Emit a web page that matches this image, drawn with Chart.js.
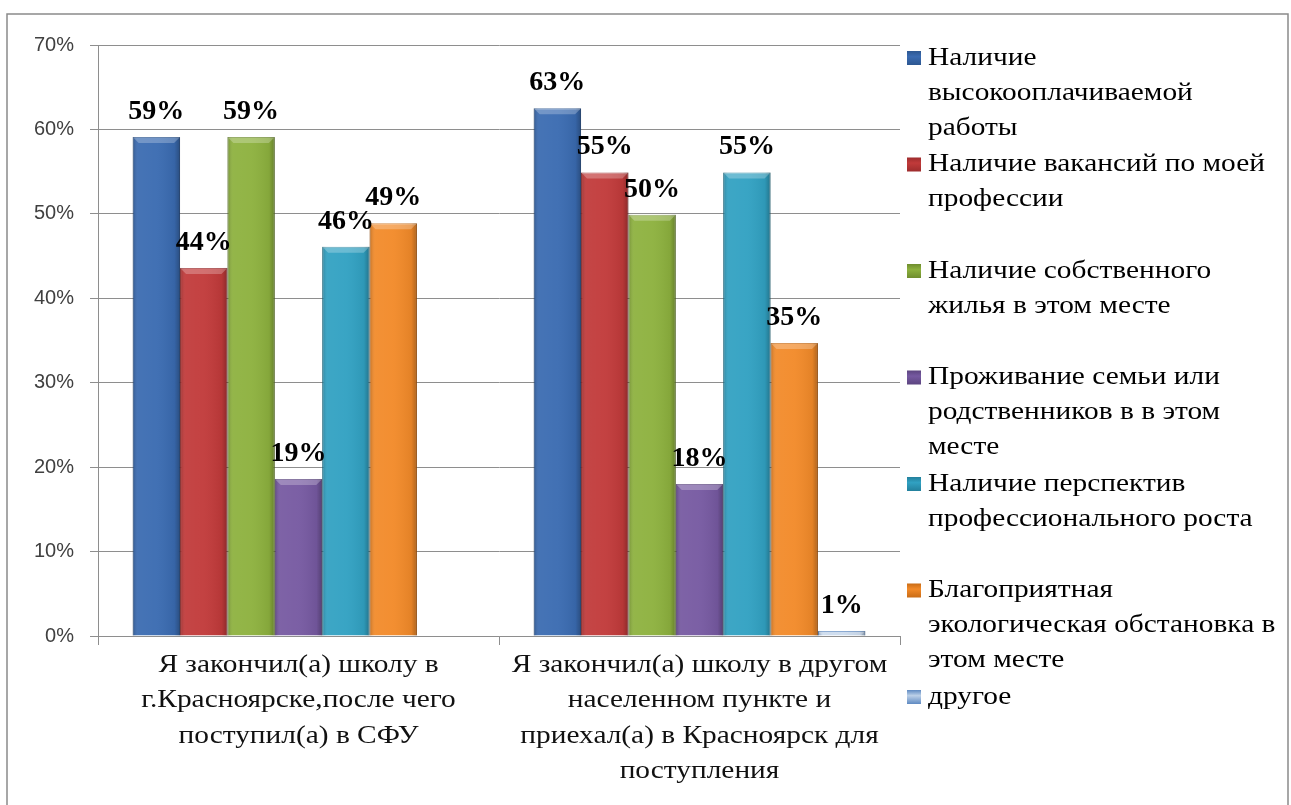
<!DOCTYPE html>
<html>
<head>
<meta charset="utf-8">
<script src="https://cdn.jsdelivr.net/npm/chart.js@4"></script>
<style>
  body { margin:0; background:#fff; }
  #wrap { position:absolute; left:0; top:0; width:1291px; height:805px; }
</style>
</head>
<body>
<div id="wrap"><canvas id="myChart" width="1291" height="805"></canvas></div>
<script>
// categories (x axis labels, multi-line)
var categories = [
    ['Я закончил(а) школу в', 'г.Красноярске,после чего', 'поступил(а) в СФУ'],
    ['Я закончил(а) школу в другом', 'населенном пункте и', 'приехал(а) в Красноярск для', 'поступления']
];

// series names as they wrap in the legend
var seriesNames = [
    ['Наличие', 'высокооплачиваемой', 'работы'],
    ['Наличие вакансий по моей', 'профессии'],
    ['Наличие собственного', 'жилья в этом месте'],
    ['Проживание семьи или', 'родственников в в этом', 'месте'],
    ['Наличие перспектив', 'профессионального роста'],
    ['Благоприятная', 'экологическая обстановка в', 'этом месте'],
    ['другое']
];

// values in %
var highPay      = [59.1, 62.5];
var vacancies    = [43.6, 54.9];
var ownHousing   = [59.1, 49.9];
var family       = [18.6, 18.0];
var growth       = [46.1, 54.9];
var ecology      = [48.9, 34.7];
var other        = [null, 0.6];

var yTicks = [0, 10, 20, 30, 40, 50, 60, 70];

var colors  = ['#3a6bb1', '#c13a3a', '#8db13e', '#7659a1', '#31a1c2', '#f28a29', '#bcd0e8'];
var borders = ['#2d5791', '#9d2c2d', '#6f8d2e', '#5c4580', '#23809c', '#c96c16', '#5f8ac2'];

var seriesData = [highPay, vacancies, ownHousing, family, growth, ecology, other];

var serifFont = '"Liberation Serif", "Times New Roman", serif';
var stretch = 1.13; // the original text is a bit wider than Times

var datasets = seriesData.map(function(d, i){
    return {
        label: seriesNames[i].join(' '),
        data: d,
        backgroundColor: colors[i],
        borderColor: borders[i],
        borderWidth: 1,
        barPercentage: 1,
        categoryPercentage: 0.827
    };
});

function wideText(ctx, t, x, y){
    ctx.save();
    ctx.translate(x, y);
    ctx.scale(stretch, 1);
    ctx.fillText(t, 0, 0);
    ctx.restore();
}

// shading on the bars (darker edges, light cap) to mimic the bevel look
var bevelPlugin = {
    id: 'bevel',
    afterDatasetsDraw: function(chart){
        var ctx = chart.ctx;
        chart.data.datasets.forEach(function(ds, di){
            chart.getDatasetMeta(di).data.forEach(function(bar, j){
                if (ds.data[j] === null) return;
                var left = bar.x - bar.width/2, top = bar.y, h = bar.base - bar.y;
                if (h < 1) return;
                ctx.save();
                var g = ctx.createLinearGradient(left, 0, left + bar.width, 0);
                g.addColorStop(0, 'rgba(0,0,0,0.20)');
                g.addColorStop(0.12, 'rgba(255,255,255,0.06)');
                g.addColorStop(0.5, 'rgba(255,255,255,0.04)');
                g.addColorStop(0.88, 'rgba(0,0,0,0.06)');
                g.addColorStop(1, 'rgba(0,0,0,0.28)');
                ctx.fillStyle = g;
                ctx.fillRect(left, top, bar.width, h);
                var capH = Math.min(6, h);
                ctx.fillStyle = 'rgba(255,255,255,0.25)';
                ctx.beginPath();
                ctx.moveTo(left, top);
                ctx.lineTo(left + bar.width, top);
                ctx.lineTo(left + bar.width - capH, top + capH);
                ctx.lineTo(left + capH, top + capH);
                ctx.closePath();
                ctx.fill();
                ctx.restore();
            });
        });
    }
};

var valueLabels = {
    id: 'valueLabels',
    afterDatasetsDraw: function(chart){
        var ctx = chart.ctx;
        ctx.save();
        ctx.font = 'bold 28px ' + serifFont;
        ctx.fillStyle = '#000';
        ctx.textAlign = 'center';
        ctx.textBaseline = 'alphabetic';
        chart.data.datasets.forEach(function(ds, di){
            chart.getDatasetMeta(di).data.forEach(function(bar, j){
                var v = ds.data[j];
                if (v === null) return;
                ctx.fillText(Math.round(v) + '%', bar.x, bar.y - 18);
            });
        });
        ctx.restore();
    }
};

// category labels drawn by hand so they can be stretched like the original
var catLabels = {
    id: 'catLabels',
    afterDraw: function(chart){
        var ctx = chart.ctx, xs = chart.scales.x;
        ctx.save();
        ctx.font = '26px ' + serifFont;
        ctx.fillStyle = '#111';
        ctx.textAlign = 'center';
        ctx.textBaseline = 'middle';
        categories.forEach(function(lines, i){
            var cx = xs.getPixelForTick(i);
            lines.forEach(function(t, k){
                wideText(ctx, t, cx, xs.top + 29 + k*35.5);
            });
        });
        ctx.restore();
    }
};

var sideLegend = {
    id: 'sideLegend',
    afterDraw: function(chart){
        var ctx = chart.ctx;
        var x0 = chart.chartArea.right + 7;
        var y0 = chart.chartArea.top + 13;
        var step = 106.5, lh = 35;
        ctx.save();
        ctx.font = '26px ' + serifFont;
        ctx.textBaseline = 'middle';
        ctx.textAlign = 'left';
        seriesNames.forEach(function(lines, i){
            var y = y0 + i*step;
            var g = ctx.createLinearGradient(x0, y-7, x0, y+7);
            g.addColorStop(0, borders[i]);
            g.addColorStop(0.4, colors[i]);
            g.addColorStop(1, borders[i]);
            ctx.fillStyle = g;
            ctx.fillRect(x0, y-7, 14, 14);
            ctx.fillStyle = '#000';
            lines.forEach(function(t, k){
                wideText(ctx, t, x0 + 21, y + k*lh);
            });
        });
        // outer frame
        ctx.strokeStyle = '#8a8a8a';
        ctx.lineWidth = 1.5;
        ctx.strokeRect(7, 14, 1281, 800);
        ctx.restore();
    }
};

var ctx = document.getElementById('myChart').getContext('2d');
var myChart = new Chart(ctx, {
    type: 'bar',
    data: {
        labels: categories,
        datasets: datasets
    },
    options: {
        responsive: false,
        animation: false,
        layout: { padding: { top: 45, right: 391, bottom: 0, left: 0 } },
        plugins: {
            legend: { display: false },
            tooltip: { enabled: false }
        },
        scales: {
            y: {
                min: 0,
                max: 70,
                afterFit: function(s){ s.width = 98; },
                afterBuildTicks: function(s){ s.ticks = yTicks.map(function(v){ return {value: v}; }); },
                ticks: {
                    padding: 16,
                    color: '#404040',
                    font: { family: '"Liberation Sans", Arial, sans-serif', size: 20 },
                    callback: function(v){ return v + '%'; }
                },
                grid: { color: '#8e8e8e', lineWidth: 1, tickLength: 8 },
                border: { display: true, color: '#8e8e8e', width: 1 }
            },
            x: {
                afterFit: function(s){ s.height = 169; },
                ticks: {
                    autoSkip: false,
                    maxRotation: 0,
                    padding: 3,
                    color: 'rgba(0,0,0,0)',
                    font: { family: serifFont, size: 24, lineHeight: 1.45 }
                },
                grid: { drawOnChartArea: false, color: '#8e8e8e', tickLength: 9, offset: true },
                border: { display: true, color: '#8e8e8e', width: 1 }
            }
        }
    },
    plugins: [bevelPlugin, valueLabels, catLabels, sideLegend]
});
</script>
</body>
</html>
